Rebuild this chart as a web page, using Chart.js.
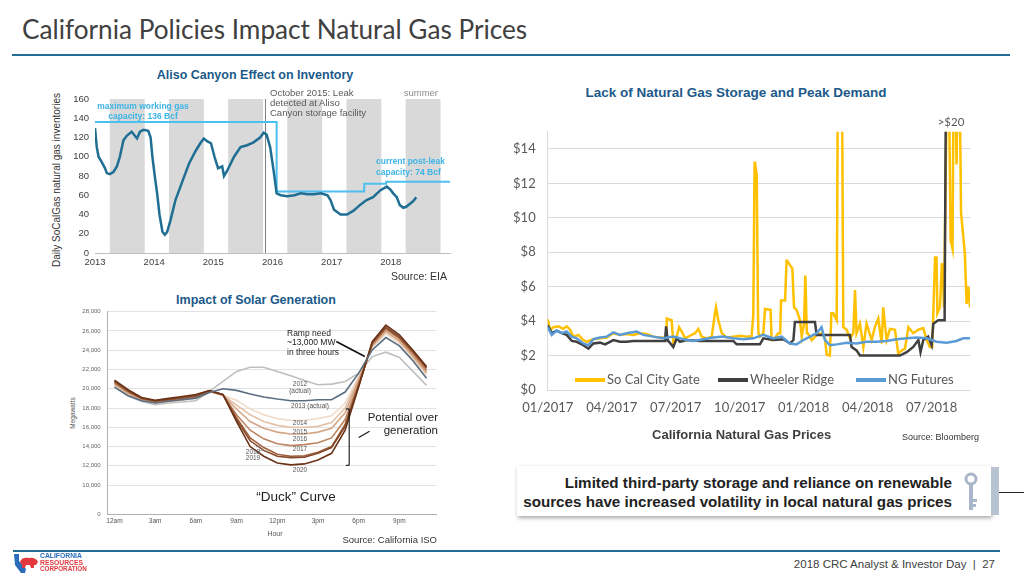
<!DOCTYPE html>
<html>
<head>
<meta charset="utf-8">
<script src="https://cdn.jsdelivr.net/npm/chart.js@4.4.1/dist/chart.umd.min.js"></script>
<style>
html, body { margin: 0; padding: 0; background: #fff; }
body { width: 1024px; height: 576px; position: relative; overflow: hidden; font-family: "Liberation Sans", Arial, sans-serif; color: #333; }
canvas { position: absolute; }
.lab { position: absolute; white-space: nowrap; line-height: 1; transform: translateY(-50%); }
.ctr { transform: translate(-50%, -50%); }
.rot { transform: translate(-50%, -50%) rotate(-90deg); }
.hd { font-weight: bold; color: #1b5a8a; font-size: 12.5px; }
.narrow { font-family: "Liberation Sans Narrow", "Liberation Sans", Arial, sans-serif; }
.cap { color: #3db4e6; font-weight: bold; font-size: 8.5px; }
.duck { font-size: 6.5px; color: #555; }
.leg { position: absolute; top: 371px; height: 13px; font-family: Lato, sans-serif; font-size: 13px; color: #595959; white-space: nowrap; }
.leg i { display: inline-block; width: 30px; height: 4px; vertical-align: middle; margin-right: 2px; position: relative; top: -1px; }
</style>
</head>
<body>

<!-- slide header -->
<div class="lab" style="left:22px;top:29px;font-family:Lato,sans-serif;font-size:26.2px;color:#404040;">California Policies Impact Natural Gas Prices</div>
<div style="position:absolute;left:12px;top:54px;width:998px;height:2px;background:#236e96;"></div>

<!-- Aliso Canyon chart -->
<div class="lab ctr hd" style="left:255px;top:75px;">Aliso Canyon Effect on Inventory</div>
<div class="lab rot" style="left:57px;top:180px;font-size:10px;color:#333;">Daily SoCalGas natural gas inventories</div>
<canvas id="alisoChart" width="415" height="190" style="left:40px;top:84px;width:415px;height:190px;"></canvas>
<div class="lab ctr narrow cap" style="left:143px;top:106px;">maximum working gas</div>
<div class="lab ctr narrow cap" style="left:143px;top:115.5px;">capacity: 136 Bcf</div>
<div class="lab narrow" style="left:270px;top:93px;font-size:9.5px;color:#595959;">October 2015: Leak</div>
<div class="lab narrow" style="left:270px;top:103px;font-size:9.5px;color:#595959;">detected at Aliso</div>
<div class="lab narrow" style="left:270px;top:113px;font-size:9.5px;color:#595959;">Canyon storage facility</div>
<div class="lab narrow" style="right:586px;top:93px;font-size:9.5px;color:#8c8c8c;">summer</div>
<div class="lab narrow cap" style="left:376px;top:160.5px;">current post-leak</div>
<div class="lab narrow cap" style="left:376px;top:171.5px;">capacity: 74 Bcf</div>
<div class="lab" style="right:577px;top:276px;font-size:10.5px;color:#333;">Source: EIA</div>

<!-- Duck curve chart -->
<div class="lab ctr hd" style="left:256px;top:300px;">Impact of Solar Generation</div>
<div class="lab rot" style="left:73px;top:413px;font-size:6.5px;color:#555;">Megawatts</div>
<canvas id="duckChart" width="382" height="235" style="left:60px;top:303px;width:382px;height:235px;"></canvas>
<div class="lab ctr" style="left:275px;top:533px;font-size:7px;color:#555;">Hour</div>
<div class="lab" style="left:287px;top:332.7px;font-size:8.5px;color:#222;">Ramp need</div>
<div class="lab" style="left:287px;top:341.7px;font-size:8.5px;color:#222;">~13,000 MW</div>
<div class="lab" style="left:287px;top:351.7px;font-size:8.5px;color:#222;">in three hours</div>
<div class="lab ctr duck" style="left:300px;top:384px;">2012</div>
<div class="lab ctr duck" style="left:300px;top:390.5px;">(actual)</div>
<div class="lab ctr duck" style="left:310px;top:405.7px;">2013 (actual)</div>
<div class="lab ctr duck" style="left:300px;top:423.3px;">2014</div>
<div class="lab ctr duck" style="left:300px;top:431.7px;">2015</div>
<div class="lab ctr duck" style="left:300px;top:439.3px;">2016</div>
<div class="lab ctr duck" style="left:300px;top:449.3px;">2017</div>
<div class="lab ctr duck" style="left:253px;top:452.3px;">2018</div>
<div class="lab ctr duck" style="left:253px;top:458.3px;">2019</div>
<div class="lab ctr duck" style="left:300px;top:470px;">2020</div>
<div class="lab" style="right:586px;top:417.7px;font-size:11.5px;color:#222;">Potential over</div>
<div class="lab" style="right:586px;top:430.7px;font-size:11.5px;color:#222;">generation</div>
<div class="lab ctr" style="left:296px;top:497.3px;font-size:13.5px;color:#222;">“Duck” Curve</div>
<div class="lab" style="right:587px;top:540px;font-size:9.5px;color:#333;">Source: California ISO</div>

<!-- Gas price chart -->
<div class="lab ctr hd" style="left:736px;top:92.7px;font-size:13.5px;">Lack of Natural Gas Storage and Peak Demand</div>
<canvas id="gasChart" width="475" height="290" style="left:500px;top:126px;width:475px;height:290px;"></canvas>
<div class="lab ctr" style="left:951px;top:122.3px;font-family:Lato,sans-serif;font-size:11.5px;color:#595959;">&gt;$20</div>
<div class="leg" style="left:575px;"><i style="background:#ffc000"></i>So Cal City Gate</div>
<div class="leg" style="left:718px;"><i style="background:#404040"></i>Wheeler Ridge</div>
<div class="leg" style="left:856px;"><i style="background:#5b9bd5"></i>NG Futures</div>
<div class="lab ctr" style="left:741.7px;top:434px;font-size:13px;font-weight:bold;color:#404040;">California Natural Gas Prices</div>
<div class="lab" style="left:902px;top:437px;font-size:9px;color:#333;">Source: Bloomberg</div>

<!-- key takeaway -->
<div style="position:absolute;left:517px;top:466px;width:474px;height:50px;background:#fff;box-shadow:1px 2px 4px rgba(0,0,0,0.35);"></div>
<div class="lab narrow" style="right:72px;top:483px;font-size:15.2px;font-weight:bold;color:#222;">Limited third-party storage and reliance on renewable</div>
<div class="lab narrow" style="right:72px;top:502px;font-size:15.2px;font-weight:bold;color:#222;">sources have increased volatility in local natural gas prices</div>
<svg style="position:absolute;left:962px;top:472px;" width="18" height="40" viewBox="0 0 18 40">
  <circle cx="9" cy="7" r="5" fill="none" stroke="#a9b5c8" stroke-width="3"/>
  <rect x="7" y="11" width="4" height="27" fill="#a9b5c8"/>
  <rect x="11" y="27" width="4" height="3" fill="#a9b5c8"/>
  <rect x="11" y="32" width="3" height="3" fill="#a9b5c8"/>
</svg>
<div style="position:absolute;left:991px;top:467px;width:8px;height:48px;background:#b7c2d3;"></div>
<div style="position:absolute;left:999px;top:491.5px;width:25px;height:1.5px;background:#222;"></div>

<!-- footer -->
<div style="position:absolute;left:13px;top:550px;width:987px;height:1.5px;background:#236e96;"></div>
<svg style="position:absolute;left:13px;top:553px;" width="26" height="21" viewBox="0 0 26 21">
  <path d="M1 1 L6 1 L6 8 L13 16 L12 20 L8 20 L2 12 Z" fill="#2a6ebb"/>
  <path d="M7 9 C8 5 12 4 16 5 C20 4 24 6 25 9 L23 12 L21 12 L21 15 L18 15 L17 12 L13 12 L12 15 L9 15 L9 12 Z" fill="#e0383e"/>
</svg>
<div class="lab" style="left:40px;top:556px;font-size:6.8px;font-weight:bold;color:#2a6ebb;">CALIFORNIA</div>
<div class="lab" style="left:40px;top:562.5px;font-size:6.8px;font-weight:bold;color:#e0383e;">RESOURCES</div>
<div class="lab" style="left:40px;top:568.5px;font-size:6.3px;font-weight:bold;color:#e0383e;">CORPORATION</div>
<div class="lab" style="right:29px;top:565px;font-size:11.5px;color:#404040;">2018 CRC Analyst &amp; Investor Day &nbsp;|&nbsp; 27</div>

<script>
// ---- Aliso Canyon: daily SoCalGas inventories (Bcf) ----
const invYears = [2013.00, 2013.03, 2013.06, 2013.11, 2013.17, 2013.20, 2013.25, 2013.31, 2013.37, 2013.42,
  2013.48, 2013.54, 2013.62, 2013.71, 2013.76, 2013.82, 2013.90, 2013.94, 2013.97, 2014.01,
  2014.05, 2014.09, 2014.14, 2014.18, 2014.22, 2014.28, 2014.36, 2014.48, 2014.59, 2014.70,
  2014.78, 2014.84, 2014.90, 2014.96, 2015.02, 2015.08, 2015.15, 2015.18, 2015.23, 2015.35,
  2015.46, 2015.57, 2015.68, 2015.79, 2015.85, 2015.90, 2015.96, 2016.02, 2016.07, 2016.14,
  2016.25, 2016.37, 2016.48, 2016.59, 2016.70, 2016.82, 2016.93, 2016.98, 2017.04, 2017.15,
  2017.26, 2017.37, 2017.48, 2017.59, 2017.70, 2017.82, 2017.93, 2017.99, 2018.04, 2018.10,
  2018.15, 2018.21, 2018.26, 2018.32, 2018.38, 2018.43];
const invBcf = [130, 110, 100, 95, 88, 83, 82, 84, 90, 100,
  117, 122, 126, 119, 126, 128, 127, 120, 100, 80,
  62, 40, 22, 19, 22, 35, 55, 75, 93, 106,
  114, 119, 116, 114, 100, 88, 90, 80, 85, 100,
  110, 112, 115, 120, 125, 123, 110, 85, 62, 60,
  59, 60, 62, 61, 61, 62, 60, 55, 45, 40,
  40, 44, 50, 55, 58, 65, 69, 66, 62, 58,
  50, 47, 48, 51, 54, 58];
const capYears = [2013, 2016.07, 2017.55, 2017.92, 2019];
const capBcf = [136, 64, 72, 74, 74];
const summerStart = [2013.25, 2014.25, 2015.25, 2016.25, 2017.25, 2018.25];
const summerEnd = [2013.84, 2014.84, 2015.84, 2016.84, 2017.84, 2018.84];
const leakYear = 2015.88;
const alisoYearTicks = [2013, 2014, 2015, 2016, 2017, 2018];

// ---- Duck curve: net load by hour (MW) ----
const hours = [0, 1, 2, 3, 4, 5, 6, 7, 8, 9, 10, 11, 12, 13, 14, 15, 16, 17, 18, 19, 20, 21, 22, 23];
const load2012 = [20170, 19270, 18690, 18350, 18520, 18620, 18760, 19720, 20760, 21800, 22240, 22240, 21800, 21350, 20860, 20410, 20480, 20760, 21620, 23340, 23800, 23240, 21800, 20350];
const load2013 = [20170, 19270, 18760, 18520, 18700, 18860, 19030, 19620, 20000, 19830, 19450, 19140, 18930, 18760, 18760, 18860, 18860, 19660, 21620, 24030, 25310, 24450, 22900, 21100];
const load2014 = [20300, 19350, 18800, 18500, 18650, 18800, 19000, 19700, 19300, 18800, 17900, 17300, 16900, 16700, 16700, 16900, 17200, 18500, 21300, 24300, 25700, 24700, 23100, 21400];
const load2015 = [20400, 19450, 18850, 18550, 18700, 18850, 19050, 19720, 19320, 18300, 17300, 16600, 16200, 16000, 16000, 16100, 16500, 18000, 21100, 24400, 25900, 24900, 23300, 21600];
const load2016 = [20500, 19550, 18900, 18600, 18750, 18900, 19100, 19740, 19340, 17900, 16600, 15900, 15500, 15300, 15300, 15500, 15900, 17500, 20900, 24500, 26000, 25000, 23400, 21700];
const load2017 = [20600, 19650, 18950, 18650, 18800, 18950, 19150, 19760, 19360, 17300, 15700, 14800, 14300, 14100, 14200, 14400, 14900, 16800, 20600, 24600, 26200, 25200, 23600, 21900];
const load2018 = [20700, 19750, 19000, 18700, 18850, 19000, 19200, 19780, 19380, 17000, 14900, 13900, 13200, 13000, 13050, 13400, 14000, 16300, 20400, 24700, 26300, 25300, 23800, 22100];
const load2019 = [20800, 19800, 19050, 18750, 18900, 19100, 19300, 19800, 19390, 16800, 14600, 13600, 13000, 12850, 12900, 13300, 13900, 16100, 20300, 24800, 26400, 25400, 23900, 22200];
const load2020 = [20900, 19900, 19100, 18800, 19000, 19200, 19400, 19820, 19400, 16600, 14000, 13000, 12300, 12100, 12200, 12600, 13300, 15700, 20200, 24900, 26600, 25600, 24000, 22300];
const hourTicks = [0, 3, 6, 9, 12, 15, 18, 21];
const hourLabels = ['12am', '3am', '6am', '9am', '12pm', '3pm', '6pm', '9pm'];
// axis is broken below 10,000: the lowest line carries the "0" label
const mwTicks = [7000, 10000, 12000, 14000, 16000, 18000, 20000, 22000, 24000, 26000, 28000];
const mwLabels = ['0', '10,000', '12,000', '14,000', '16,000', '18,000', '20,000', '22,000', '24,000', '26,000', '28,000'];

// ---- California gas prices ($/MMBtu), x = months since Jan 2017 ----
const gateMonths = [0.00, 0.11, 0.27, 0.50, 0.73, 0.89, 1.05, 1.20, 1.44, 1.67, 1.83, 2.14, 2.45, 2.77, 3.08, 3.39, 3.70, 4.02, 4.33, 4.64,
  4.95, 5.27, 5.55, 5.58, 5.81, 5.89, 6.05, 6.16, 6.28, 6.44, 6.67, 6.91, 7.06, 7.22, 7.45, 7.69, 7.84, 7.89, 8.00, 8.16,
  8.39, 8.70, 9.02, 9.33, 9.56, 9.64, 9.70, 9.72, 9.80, 9.86, 9.88, 9.95, 10.11, 10.19, 10.23, 10.45, 10.50, 10.58, 10.81, 10.90,
  10.94, 11.13, 11.20, 11.23, 11.36, 11.47, 11.55, 11.67, 11.83, 11.91, 12.02, 12.08, 12.11, 12.15, 12.19, 12.38, 12.61, 12.84, 13.00, 13.08,
  13.23, 13.30, 13.39, 13.55, 13.62, 13.72, 13.78, 13.86, 14.02, 14.17, 14.33, 14.41, 14.48, 14.64, 14.80, 14.95, 15.19, 15.34, 15.50, 15.66,
  15.73, 15.89, 16.05, 16.28, 16.44, 16.59, 16.75, 16.91, 17.14, 17.38, 17.61, 17.77, 17.92, 18.03, 18.08, 18.16, 18.23, 18.27, 18.39, 18.48,
  18.52, 18.58, 18.67, 18.78, 18.89, 18.98, 19.05, 19.17, 19.28, 19.38, 19.56, 19.64, 19.72, 19.80];
const gatePrice = [4.1, 3.5, 3.65, 3.7, 3.55, 3.7, 3.5, 3.1, 3.2, 2.9, 2.8, 2.95, 3.0, 3.05, 3.3, 3.2, 3.25, 3.2, 3.3, 3.25,
  3.1, 3.05, 3.05, 4.15, 4.05, 2.7, 3.1, 3.65, 3.4, 3.0, 3.15, 3.3, 3.55, 3.1, 3.0, 3.1, 4.45, 4.8, 4.05, 3.3,
  3.05, 3.1, 3.15, 3.1, 3.1, 4.4, 13.2, 13.2, 12.5, 4.45, 3.3, 3.1, 3.3, 4.7, 4.7, 4.65, 2.9, 2.9, 3.3, 3.3,
  5.2, 5.2, 7.5, 7.5, 7.25, 7.05, 4.8, 4.65, 4.05, 3.1, 3.85, 6.65, 6.65, 3.3, 3.3, 2.9, 3.2, 3.3, 3.0, 2.05,
  2.0, 4.45, 4.45, 4.05, 22, 22, 22, 3.65, 3.5, 3.0, 3.3, 5.8, 3.3, 3.85, 2.5, 3.85, 2.9, 3.65, 4.15, 2.7,
  4.8, 2.9, 3.55, 3.5, 2.1, 2.3, 2.4, 3.65, 3.3, 3.5, 3.6, 2.9, 2.5, 2.5, 4.45, 7.7, 7.7, 4.45, 4.8, 7.3,
  7.3, 4.8, 13.5, 22, 8.7, 8.2, 22, 13.1, 22, 10.3, 7.9, 5.0, 6.0, 4.8];
const wheelerMonths = [0.00, 0.19, 0.42, 0.66, 0.89, 1.13, 1.36, 1.67, 1.91, 2.14, 2.45, 2.69, 3.08, 3.39, 3.70, 4.02, 4.48, 4.95, 5.50, 5.55,
  5.58, 5.63, 5.66, 5.89, 6.05, 6.20, 6.52, 7.14, 7.92, 8.70, 8.86, 9.95, 10.11, 10.58, 11.05, 11.36, 11.52, 11.59, 12.53, 12.61,
  14.17, 14.25, 14.48, 14.64, 16.52, 16.83, 17.14, 17.38, 17.48, 17.61, 17.84, 18.00, 18.08, 18.31, 18.61, 18.69];
const wheelerPrice = [3.75, 3.3, 3.45, 3.3, 3.2, 2.85, 2.8, 2.6, 2.4, 2.7, 2.75, 2.65, 2.9, 2.8, 2.8, 2.85, 2.85, 2.85, 2.85, 3.7,
  3.7, 2.85, 2.85, 2.5, 3.0, 2.8, 2.9, 2.85, 2.85, 2.85, 2.65, 2.65, 3.0, 2.9, 2.95, 2.7, 2.9, 3.95, 3.95, 3.2,
  3.2, 2.5, 2.3, 2.0, 2.0, 2.2, 2.5, 2.9, 2.2, 2.9, 3.1, 2.6, 3.85, 4.05, 4.05, 22];
const futMonths = [0.00, 0.19, 0.42, 0.66, 0.89, 1.13, 1.36, 1.67, 1.91, 2.14, 2.45, 2.77, 3.08, 3.39, 3.70, 4.17, 4.48, 4.95, 5.42, 5.89,
  6.36, 6.83, 7.30, 7.77, 8.23, 8.70, 9.17, 9.64, 10.11, 10.58, 10.97, 11.36, 11.67, 11.98, 12.30, 12.61, 12.84, 13.00, 13.23, 13.55,
  14.02, 14.48, 14.95, 15.42, 15.89, 16.36, 16.83, 17.30, 17.77, 18.23, 18.70, 19.17, 19.48, 19.80];
const futPrice = [3.65, 3.2, 3.45, 3.3, 3.4, 3.1, 3.0, 2.7, 2.6, 2.95, 3.05, 3.1, 3.35, 3.2, 3.3, 3.4, 3.2, 3.1, 3.0, 3.1,
  2.95, 2.85, 2.95, 3.05, 3.1, 3.0, 2.95, 3.0, 3.2, 3.0, 3.1, 2.7, 2.65, 2.9, 3.1, 3.3, 3.65, 2.9, 2.6, 2.65,
  2.75, 2.7, 2.8, 2.8, 2.85, 2.95, 3.0, 3.05, 3.0, 2.8, 2.75, 2.85, 3.0, 3.0];
const priceTickMonths = [0, 3, 6, 9, 12, 15, 18];
const priceTickLabels = ['01/2017', '04/2017', '07/2017', '10/2017', '01/2018', '04/2018', '07/2018'];

function pts(xs, ys) {
  return xs.map((x, i) => ({ x: x, y: ys[i] }));
}

// fixed axis boxes so each plot lands where the slide has it
function fixWidth(w) {
  return s => { s.width = w; s.paddingTop = 0; s.paddingBottom = 0; };
}
function fixHeight(h) {
  return s => { s.height = h; s.paddingLeft = 0; s.paddingRight = 0; };
}

Chart.defaults.animation = false;
Chart.defaults.responsive = false;
Chart.defaults.plugins.legend.display = false;
Chart.defaults.plugins.tooltip.enabled = false;
Chart.defaults.elements.point.radius = 0;
Chart.defaults.elements.line.tension = 0;

// summer shading + leak marker, drawn under the lines
const alisoBands = {
  id: 'alisoBands',
  beforeDatasetsDraw(chart) {
    const { ctx, chartArea: a, scales: { x } } = chart;
    ctx.save();
    ctx.fillStyle = '#d9d9d9';
    summerStart.forEach((s, i) => {
      const x0 = x.getPixelForValue(s);
      const x1 = x.getPixelForValue(summerEnd[i]);
      ctx.fillRect(x0, a.top, x1 - x0, a.bottom - a.top);
    });
    const lx = Math.round(x.getPixelForValue(leakYear)) + 0.5;
    ctx.strokeStyle = '#808080';
    ctx.lineWidth = 1;
    ctx.beginPath();
    ctx.moveTo(lx, a.top);
    ctx.lineTo(lx, a.bottom);
    ctx.stroke();
    ctx.restore();
  }
};

new Chart(document.getElementById('alisoChart'), {
  type: 'line',
  data: {
    datasets: [
      { data: pts(invYears, invBcf), borderColor: '#1f6e93', borderWidth: 2.5, order: 1 },
      { data: pts(capYears, capBcf), borderColor: '#4cc0ef', borderWidth: 2, stepped: true, order: 2 }
    ]
  },
  options: {
    layout: { padding: { top: 15, right: 5, left: 0, bottom: 0 } },
    scales: {
      x: {
        type: 'linear', min: 2013, max: 2019,
        afterBuildTicks: s => { s.ticks = alisoYearTicks.map(v => ({ value: v })); },
        afterFit: fixHeight(21),
        ticks: { callback: v => String(v), font: { size: 9.5 }, color: '#404040', padding: 4, maxRotation: 0 },
        grid: { display: false, drawTicks: false },
        border: { display: true, color: '#bfbfbf' }
      },
      y: {
        min: 0, max: 160,
        afterFit: fixWidth(55),
        ticks: { stepSize: 20, font: { size: 9.5 }, color: '#404040', padding: 6 },
        grid: { display: false, drawTicks: false },
        border: { display: false }
      }
    }
  },
  plugins: [alisoBands]
});

// ramp arrow, over-generation bracket and label leaders on the duck curve
const duckNotes = {
  id: 'duckNotes',
  afterDatasetsDraw(chart) {
    const { ctx, scales: { x, y } } = chart;
    const P = (h, mw) => [x.getPixelForValue(h), y.getPixelForValue(mw)];
    const seg = (a, b, w) => {
      ctx.lineWidth = w;
      ctx.beginPath(); ctx.moveTo(a[0], a[1]); ctx.lineTo(b[0], b[1]); ctx.stroke();
    };
    ctx.save();
    ctx.strokeStyle = '#111';
    seg(P(16.35, 24900), P(18.45, 23350), 1.6);
    seg(P(17.3, 17900), P(17.3, 12050), 1.1);
    seg(P(17.05, 17900), P(17.3, 17900), 1.1);
    seg(P(17.05, 12050), P(17.3, 12050), 1.1);
    seg(P(18.0, 14950), P(18.8, 15600), 1.1);
    ctx.strokeStyle = '#777';
    seg(P(10.45, 13950), P(10.85, 14150), 0.7);
    seg(P(10.45, 13350), P(10.95, 13700), 0.7);
    ctx.restore();
  }
};

const duckSeries = [
  { label: '2013', data: load2013, color: '#5a6e80', order: 0 },
  { label: '2020', data: load2020, color: '#6a3318', order: 1 },
  { label: '2019', data: load2019, color: '#85482a', order: 2 },
  { label: '2018', data: load2018, color: '#a0623d', order: 3 },
  { label: '2017', data: load2017, color: '#bd8462', order: 4 },
  { label: '2016', data: load2016, color: '#d4a686', order: 5 },
  { label: '2015', data: load2015, color: '#e3c2a8', order: 6 },
  { label: '2014', data: load2014, color: '#f0dccb', order: 7 },
  { label: '2012', data: load2012, color: '#bfbfbf', order: 8 }
];

new Chart(document.getElementById('duckChart'), {
  type: 'line',
  data: {
    datasets: duckSeries.map(s => ({
      label: s.label, data: pts(hours, s.data), borderColor: s.color, borderWidth: 1.6, order: s.order
    }))
  },
  options: {
    layout: { padding: { top: 8.7, right: 5.3, left: 0, bottom: 0 } },
    scales: {
      x: {
        type: 'linear', min: -0.5, max: 23.75,
        afterBuildTicks: s => { s.ticks = hourTicks.map(v => ({ value: v })); },
        afterFit: fixHeight(24),
        ticks: { callback: (v, i) => hourLabels[i], font: { size: 6.5 }, color: '#555', padding: 3, maxRotation: 0 },
        grid: { display: false, drawTicks: false },
        border: { display: true, color: '#b0b0b0' }
      },
      y: {
        min: 7000, max: 28000,
        afterBuildTicks: s => { s.ticks = mwTicks.map(v => ({ value: v })); },
        afterFit: fixWidth(47.7),
        ticks: { callback: (v, i) => mwLabels[i], font: { size: 6 }, color: '#666', padding: 7 },
        grid: { color: '#e3e3e3', drawTicks: false },
        border: { display: true, color: '#b0b0b0' }
      }
    }
  },
  plugins: [duckNotes]
});

new Chart(document.getElementById('gasChart'), {
  type: 'line',
  data: {
    datasets: [
      { label: 'So Cal City Gate', data: pts(gateMonths, gatePrice), borderColor: '#ffc000', borderWidth: 2.5, order: 3 },
      { label: 'Wheeler Ridge', data: pts(wheelerMonths, wheelerPrice), borderColor: '#404040', borderWidth: 2.5, order: 2 },
      { label: 'NG Futures', data: pts(futMonths, futPrice), borderColor: '#5b9bd5', borderWidth: 2.5, order: 1 }
    ]
  },
  options: {
    layout: { padding: { top: 5.7, right: 5, left: 0, bottom: 0 } },
    scales: {
      x: {
        type: 'linear', min: 0, max: 19.8,
        afterBuildTicks: s => { s.ticks = priceTickMonths.map(v => ({ value: v })); },
        afterFit: fixHeight(26),
        ticks: { callback: (v, i) => priceTickLabels[i], font: { family: 'Lato', size: 13 }, color: '#595959', padding: 10, maxRotation: 0 },
        grid: { display: false, drawTicks: false },
        border: { display: false }
      },
      y: {
        min: 0, max: 15,
        afterFit: fixWidth(47.7),
        afterBuildTicks: s => { s.ticks = s.ticks.filter(t => t.value % 2 === 0); },
        ticks: { stepSize: 2, callback: v => '$' + v, font: { family: 'Lato', size: 13 }, color: '#595959', padding: 12 },
        grid: { color: '#d9d9d9', drawTicks: false },
        border: { display: true, color: '#d9d9d9' }
      }
    }
  }
});
</script>
</body>
</html>
